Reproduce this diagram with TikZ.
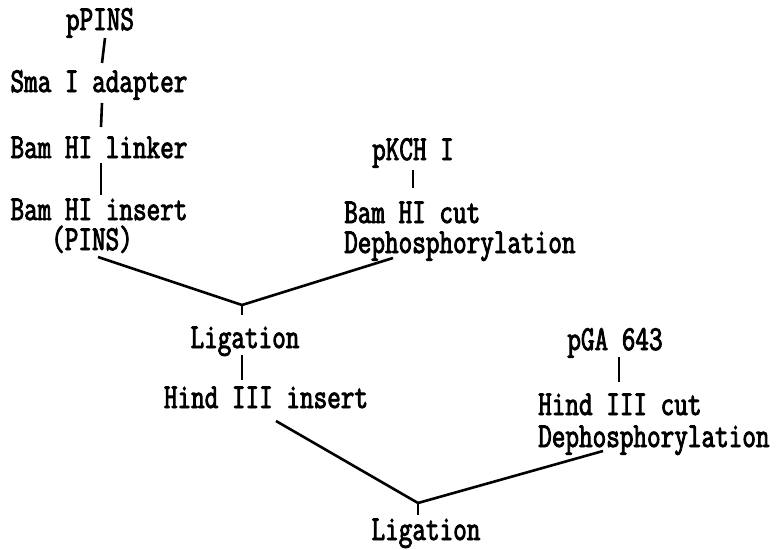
\documentclass[tikz,border=0pt]{standalone}
\usepackage{fontspec}
\newfontfamily\twfont[FakeStretch=0.755,FakeBold=2.5]{Latin Modern Mono}
\usetikzlibrary{calc}
\begin{document}
\begin{tikzpicture}[x=1pt,y=-1pt,
  lbl/.style={inner sep=0pt,font=\twfont\fontsize{35}{35}\selectfont},
  conn/.style={line width=2.6pt}]
\useasboundingbox (0,0) rectangle (779,549);
% left column
\node[lbl,anchor=base] (ppins) at (100,30) {pPINS};
\node[lbl,anchor=base] (sma) at (99,92) {Sma I adapter};
\node[lbl,anchor=base] (linker) at (99,158) {Bam HI linker};
\node[lbl,anchor=base] (insert) at (99,220) {Bam HI insert};
\node[lbl,anchor=base] (pins) at (92,250) {(PINS)};
% pKCH I branch
\node[lbl,anchor=base] (pkch) at (413,160) {pKCH I};
\node[lbl,anchor=base west] (cut1) at (344,223) {Bam HI cut};
\node[lbl,anchor=base west] (deph1) at (344,253) {Dephosphorylation};
% first ligation
\coordinate (j1) at (242,305);
\coordinate (j1t) at (242,315);
\node[lbl,anchor=base] (lig1) at (245,348) {Ligation};
\node[lbl,anchor=base] (hinsert) at (266,408) {Hind III insert};
% pGA 643 branch
\node[lbl,anchor=base] (pga) at (615,350) {pGA 643};
\node[lbl,anchor=base west] (hcut) at (538,415) {Hind III cut};
\node[lbl,anchor=base west] (deph2) at (538,447) {Dephosphorylation};
% second ligation
\coordinate (j2) at (418,503);
\coordinate (j2t) at (418,515);
\node[lbl,anchor=base] (lig2) at (426,540) {Ligation};
% connectors
\draw[conn] ($(ppins.base)+(5,8)$) -- ($(sma.base)+(3,-29)$);
\draw[conn] ($(sma.base)+(3,11)$) -- ($(linker.base)+(2,-31)$);
\draw[conn] ($(linker.base)+(2,5)$) -- ($(insert.base)+(2,-25)$);
\draw[conn] ($(pins.base)+(6,7)$) -- (j1);
\draw[conn] ($(deph1.base west)+(49,5)$) -- (j1);
\draw[conn] (j1) -- (j1t);
\draw[conn] ($(pkch.base)+(0,10)$) -- ($(cut1.base west)+(69,-35)$);
\draw[conn] ($(lig1.base)+(-3,7)$) -- ($(hinsert.base)+(-24,-28)$);
\draw[conn] ($(hinsert.base)+(10,13)$) -- (j2);
\draw[conn] ($(deph2.base west)+(65,4)$) -- (j2);
\draw[conn] (j2) -- (j2t);
\draw[conn] ($(pga.base)+(4,7)$) -- ($(hcut.base west)+(81,-33)$);
\end{tikzpicture}
\end{document}
